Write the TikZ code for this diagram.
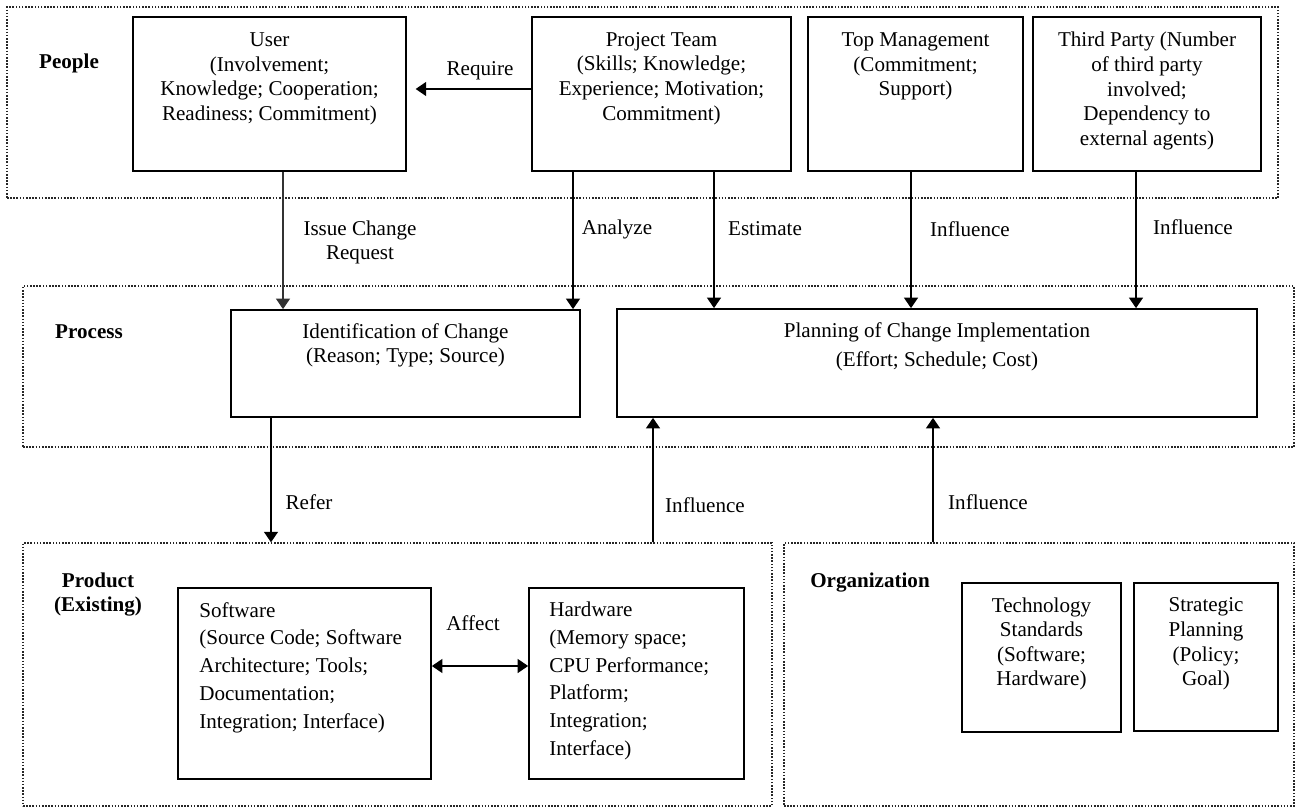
\documentclass[tikz,border=0pt]{standalone}
\usepackage{fontspec}
\setmainfont{Liberation Serif}
\usetikzlibrary{arrows.meta,fit}
\tikzset{
	box/.style={draw, line width=1pt, inner sep=0pt},
	group/.style={draw=black!85, line width=0.8pt, dash pattern=on 0.9pt off 0.9pt, inner sep=0pt},
	txt/.style={align=center, inner sep=0pt, font=\fontsize{12}{14}\selectfont},
	ltxt/.style={align=left, anchor=west, inner sep=0pt, font=\fontsize{12}{15.8}\selectfont},
	head/.style={align=center, inner sep=0pt, font=\fontsize{12}{14}\selectfont\bfseries},
	tip/.tip={Triangle[length=6pt,width=8pt]},
	arr/.style={line width=0.8pt, -tip},
	twoarr/.style={line width=0.8pt, tip-tip},
}

\begin{document}
\begin{tikzpicture}[x=0.02cm, y=-0.02cm]
		%%%%% START %%%%%
		\useasboundingbox (0,0) rectangle (1295,807);
		
		% dotted groups
		\node[group, fit={(7,7) (1278,198)}] (people) {};
		\node[group, fit={(23,286) (1294,447)}] (process) {};
		\node[group, fit={(23,543) (772,806)}] (product) {};
		\node[group, fit={(784,543) (1294,806)}] (org) {};
		
		\node[head] (people-lbl) at (69,63) {People};
		\node[head] (process-lbl) at (89,332) {Process};
		\node[head] (product-lbl) at (98,594.5) {Product\\(Existing)};
		\node[head] (org-lbl) at (870,583) {Organization};
		
		% people
		\node[box, fit={(133,17) (406,171)}] (user) {};
		\node[txt] (user-txt) at (269.5,79) {User\\(Involvement;\\Knowledge; Cooperation;\\Readiness; Commitment)};
		
		\node[box, fit={(532,17) (791,171)}] (team) {};
		\node[txt] (team-txt) at (661.5,78.5) {Project Team\\(Skills; Knowledge;\\Experience; Motivation;\\Commitment)};
		
		\node[box, fit={(808,17) (1023,171)}] (topm) {};
		\node[txt] (topm-txt) at (915.5,66.5) {Top Management\\(Commitment;\\Support)};
		
		\node[box, fit={(1033,17) (1261,171)}] (third) {};
		\node[txt] (third-txt) at (1147,91) {Third Party (Number\\of third party\\involved;\\Dependency to\\external agents)};
		
		% process
		\node[box, fit={(231,310) (580,417)}] (ident) {};
		\node[txt] (ident-txt) at (405.5,345.5) {Identification of Change\\(Reason; Type; Source)};
		
		\node[box, fit={(617,309) (1257,417)}] (plan) {};
		\node[txt, font=\fontsize{12}{16.5}\selectfont] (plan-txt) at (937,346.5) {Planning of Change Implementation\\(Effort; Schedule; Cost)};
		
		% product
		\node[box, fit={(178,588) (431,779)}] (soft) {};
		\node[ltxt] (soft-txt) at (199,667.5) {Software\\(Source Code; Software\\Architecture; Tools;\\Documentation;\\Integration; Interface)};
		
		\node[box, fit={(529,588) (744,779)}] (hard) {};
		\node[ltxt] (hard-txt) at (549,681) {Hardware\\(Memory space;\\CPU Performance;\\Platform;\\Integration;\\Interface)};
		
		% organization
		\node[box, fit={(962,583) (1121,732)}] (tech) {};
		\node[txt] (tech-txt) at (1041.5,644) {Technology\\Standards\\(Software;\\Hardware)};
		
		\node[box, fit={(1134,583) (1278,731)}] (strat) {};
		\node[txt] (strat-txt) at (1206,644) {Strategic\\Planning\\(Policy;\\Goal)};
		
		% connectors
		\draw[arr, shorten >=5pt] (team.west |- 0,89) -- (user.east |- 0,89);
		\node[txt] (require-lbl) at (480,71) {Require};
		
		\draw[arr, line width=0.6pt, draw=black!80] (user.south -| 283,0) -- (ident.north -| 283,0);
		\node[txt] (issue-lbl) at (360,242.5) {Issue Change\\Request};
		
		\draw[arr] (team.south -| 573,0) -- (ident.north -| 573,0);
		\node[txt] (analyze-lbl) at (617,229) {Analyze};
		
		\draw[arr] (team.south -| 714,0) -- (plan.north -| 714,0);
		\node[txt] (estimate-lbl) at (765,229) {Estimate};
		
		\draw[arr] (topm.south -| 911,0) -- (plan.north -| 911,0);
		\node[txt] (topm-lbl) at (970,229) {Influence};
		
		\draw[arr] (third.south -| 1136,0) -- (plan.north -| 1136,0);
		\node[txt] (third-lbl) at (1193,227) {Influence};
		
		\draw[arr] (ident.south -| 271,0) -- (product.north -| 271,0);
		\node[txt] (refer-lbl) at (309,502) {Refer};
		
		\draw[arr] (product.north -| 653,0) -- (plan.south -| 653,0);
		\node[txt] (product-infl) at (705,505) {Influence};
		
		\draw[arr] (org.north -| 933,0) -- (plan.south -| 933,0);
		\node[txt] (org-infl) at (988,502) {Influence};
		
		\draw[twoarr] (soft.east |- 0,666) -- (hard.west |- 0,666);
		\node[txt] (affect-lbl) at (473,623) {Affect};
		%%%%% END %%%%%
	\end{tikzpicture}
\end{document}
